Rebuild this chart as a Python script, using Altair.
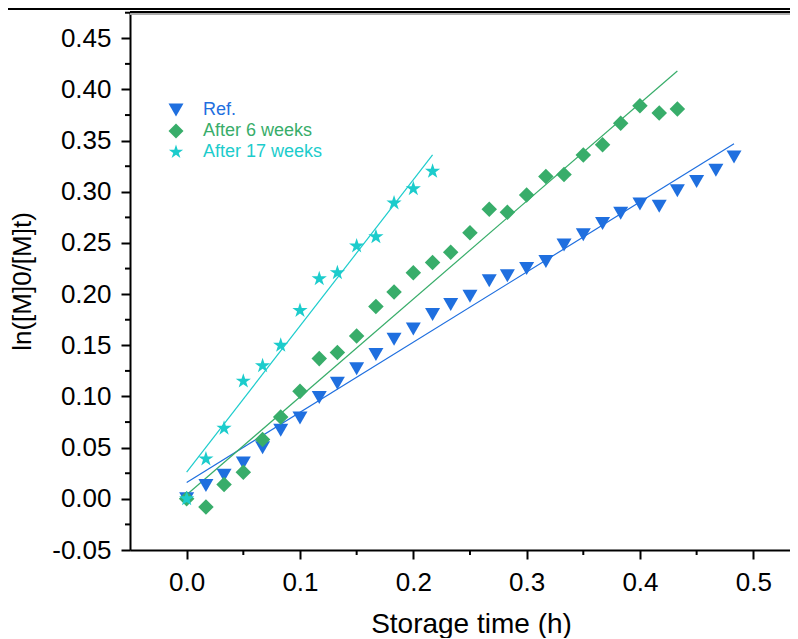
import altair as alt
import pandas as pd

# ---- data ----
series = ["Ref.", "After 6 weeks", "After 17 weeks"]
colors = ["#1f6fdf", "#38ad6a", "#1ccccc"]
STAR = ("M0,-1L0.2245,-0.309L0.9511,-0.309L0.3633,0.118L0.5878,0.809L0,0.382"
        "L-0.5878,0.809L-0.3633,0.118L-0.9511,-0.309L-0.2245,-0.309Z")
shapes = ["triangle-down", "diamond", STAR]
sizes = [225, 256, 200]

ref_t = [0.000, 0.017, 0.033, 0.050, 0.067, 0.083, 0.100, 0.117, 0.133, 0.150,
         0.167, 0.183, 0.200, 0.217, 0.233, 0.250, 0.267, 0.283, 0.300, 0.317,
         0.333, 0.350, 0.367, 0.383, 0.400, 0.417, 0.433, 0.450, 0.467, 0.483]
ref_y = [0.000, 0.013, 0.023, 0.035, 0.050, 0.067, 0.079, 0.099, 0.113, 0.127,
         0.141, 0.156, 0.166, 0.180, 0.190, 0.198, 0.213, 0.218, 0.225, 0.232,
         0.248, 0.258, 0.269, 0.279, 0.288, 0.286, 0.301, 0.310, 0.321, 0.334]

w6_t = [0.000, 0.017, 0.033, 0.050, 0.067, 0.083, 0.100, 0.117, 0.133, 0.150,
        0.167, 0.183, 0.200, 0.217, 0.233, 0.250, 0.267, 0.283, 0.300, 0.317,
        0.333, 0.350, 0.367, 0.383, 0.400, 0.417, 0.433]
w6_y = [0.000, -0.008, 0.014, 0.026, 0.058, 0.080, 0.105, 0.137, 0.143, 0.159,
        0.188, 0.202, 0.221, 0.231, 0.241, 0.260, 0.283, 0.280, 0.297, 0.315,
        0.317, 0.336, 0.346, 0.367, 0.384, 0.377, 0.381]

w17_t = [0.000, 0.017, 0.033, 0.050, 0.067, 0.083, 0.100, 0.117, 0.133, 0.150,
         0.167, 0.183, 0.200, 0.217]
w17_y = [0.000, 0.039, 0.069, 0.115, 0.130, 0.150, 0.184, 0.215, 0.221, 0.247,
         0.256, 0.289, 0.303, 0.320]

# linear fit lines (end points)
fit_ref_t = [0.0, 0.483]
fit_ref_y = [0.016, 0.347]
fit_w6_t = [0.0, 0.433]
fit_w6_y = [0.004, 0.418]
fit_w17_t = [0.0, 0.217]
fit_w17_y = [0.026, 0.336]

y_major = [-0.05, 0.0, 0.05, 0.10, 0.15, 0.20, 0.25, 0.30, 0.35, 0.40, 0.45]
y_minor = [-0.025, 0.025, 0.075, 0.125, 0.175, 0.225, 0.275, 0.325, 0.375, 0.425, 0.475]
x_major = [0.0, 0.1, 0.2, 0.3, 0.4, 0.5]
x_minor = [0.05, 0.15, 0.25, 0.35, 0.45]

# ---- tables ----
pts = pd.concat([
    pd.DataFrame({"t": ref_t, "v": ref_y, "series": series[0]}),
    pd.DataFrame({"t": w6_t, "v": w6_y, "series": series[1]}),
    pd.DataFrame({"t": w17_t, "v": w17_y, "series": series[2]}),
], ignore_index=True)

fits = pd.concat([
    pd.DataFrame({"t": fit_ref_t, "v": fit_ref_y, "series": series[0]}),
    pd.DataFrame({"t": fit_w6_t, "v": fit_w6_y, "series": series[1]}),
    pd.DataFrame({"t": fit_w17_t, "v": fit_w17_y, "series": series[2]}),
], ignore_index=True)

legend_df = pd.DataFrame({"series": series, "row": list(range(len(series)))})
ymin_df = pd.DataFrame({"v": y_minor})
xmin_df = pd.DataFrame({"t": x_minor})

W, H = 660, 538
FONT = "Liberation Sans"

xscale = alt.Scale(domain=[-0.05, 0.5324], nice=False, zero=False)
yscale = alt.Scale(domain=[-0.05, 0.4757], nice=False, zero=False)
cscale = alt.Scale(domain=series, range=colors)
shscale = alt.Scale(domain=series, range=shapes)
szscale = alt.Scale(domain=series, range=sizes)

x_axis = alt.Axis(
    values=x_major, format=".1f", title="Storage time (h)",
    grid=False, tickSize=9, tickWidth=2, domainWidth=2, domainColor="black",
    tickColor="black", labelColor="black", labelFont=FONT, labelFontSize=26,
    labelPadding=10, titleFont=FONT, titleFontSize=28, titleFontWeight="normal",
    titleColor="black", titlePadding=15, titleX=341, labelFlush=False,
)
y_axis = alt.Axis(
    values=y_major, title="ln([M]0/[M]t)",
    labelExpr="datum.value < 0 ? '-' + format(-datum.value, '.2f') : format(datum.value, '.2f')",
    grid=False, tickSize=9, tickWidth=2, domainWidth=2, domainColor="black",
    tickColor="black", labelColor="black", labelFont=FONT, labelFontSize=26,
    labelPadding=10, titleFont=FONT, titleFontSize=26, titleFontWeight="normal",
    titleColor="black", titlePadding=16, labelFlush=False,
)

X = alt.X("t:Q", scale=xscale, axis=x_axis)
Y = alt.Y("v:Q", scale=yscale, axis=y_axis)
Yn = alt.Y("v:Q", scale=yscale, axis=None)

lines = alt.Chart(fits).mark_line(strokeWidth=1.2).encode(
    x=X, y=Y,
    color=alt.Color("series:N", scale=cscale, legend=None),
    detail="series:N",
)

points = alt.Chart(pts).mark_point(filled=True, opacity=1, strokeWidth=0).encode(
    x=X, y=Yn,
    color=alt.Color("series:N", scale=cscale, legend=None),
    shape=alt.Shape("series:N", scale=shscale, legend=None),
    size=alt.Size("series:N", scale=szscale, legend=None),
)

# legend (drawn from the series list)
leg_y = alt.Y("row:Q", scale=alt.Scale(domain=[0, 2], range=[98, 140]), axis=None)
legend_sym = alt.Chart(legend_df).mark_point(filled=True, opacity=1, strokeWidth=0, size=225).encode(
    x=alt.value(46), y=leg_y,
    color=alt.Color("series:N", scale=cscale, legend=None),
    shape=alt.Shape("series:N", scale=shscale, legend=None),
)
legend_txt = alt.Chart(legend_df).mark_text(
    align="left", baseline="middle", font=FONT, fontSize=18
).encode(
    x=alt.value(73), y=leg_y, text="series:N",
    color=alt.Color("series:N", scale=cscale, legend=None),
)

# minor ticks (outside the axes)
y_minor_ticks = alt.Chart(ymin_df).mark_rule(color="black", strokeWidth=2, clip=False).encode(
    y=Yn, x=alt.value(-5), x2=alt.value(0)
)
x_minor_ticks = alt.Chart(xmin_df).mark_rule(color="black", strokeWidth=2, clip=False).encode(
    x=X, y=alt.value(H), y2=alt.value(H + 5)
)

frame = alt.Chart(ymin_df).mark_rule(color="black", strokeWidth=2).encode(
    x=alt.value(-122), x2=alt.value(W), y=alt.value(-3)
)
frame2 = alt.Chart(ymin_df).mark_rule(color="black", strokeWidth=1.5).encode(
    x=alt.value(0), x2=alt.value(W), y=alt.value(0)
)
frame3 = alt.Chart(ymin_df).mark_rule(color="#aaaaaa", strokeWidth=1).encode(
    x=alt.value(0), x2=alt.value(W), y=alt.value(1.8)
)

chart = alt.layer(
    lines, points, y_minor_ticks, x_minor_ticks, legend_sym, legend_txt,
    frame, frame2, frame3
).resolve_scale(y="independent").properties(
    width=W, height=H,
    autosize=alt.AutoSizeParams(type="none"),
    padding={"left": 122, "top": 4, "right": 0, "bottom": 88},
).configure_view(stroke=None).configure(background="white")

chart.save("out.html", embed_options={"renderer": "svg", "actions": False})
